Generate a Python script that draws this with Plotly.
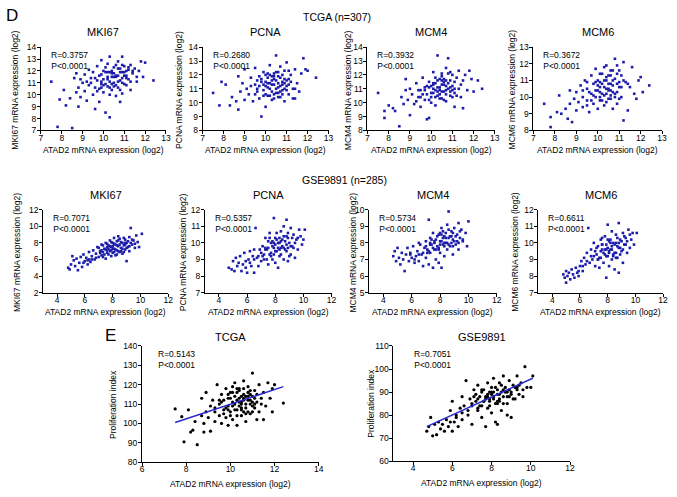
import plotly.graph_objects as go

# ---- D / TCGA (n=307) ----
tcga_mki67_x = [7.5,7.8,7.9,8.1,8.2,8.4,8.5,8.6,8.7,8.7,8.8,8.8,8.9,8.9,9.0,9.1,9.1,9.2,9.3,9.3,9.4,9.5,9.5,9.6,9.6,9.7,9.7,9.8,9.8,9.9,9.9,10.0,10.0,10.1,10.1,10.2,10.2,10.3,10.3,10.3,10.4,10.4,10.5,10.5,10.6,10.6,10.7,10.7,10.8,10.8,10.9,10.9,11.0,11.0,11.1,11.1,11.2,11.3,11.3,11.4,11.5,11.6,11.7,11.8,11.9,12.0,12.4,10.6,10.2,10.9,10.4,9.9,10.8,
                9.6,9.8,10.0,10.1,10.2,10.3,10.4,10.5,10.6,10.7,10.8,10.9,11.0,11.1,11.2,9.7,9.9,10.1,10.3,10.5,10.7,10.9,11.1,11.3,10.0,10.2,10.4,10.6,10.8,11.0,9.4,9.2,11.4,11.6,10.5,10.7,10.3,9.9,10.9,11.2]
tcga_mki67_y = [11.1,7.3,9.6,10.4,9.1,9.7,7.2,11.4,10.2,11.8,9.0,10.6,11.3,9.8,11.0,10.3,11.7,9.5,10.8,12.1,11.4,10.0,11.9,8.8,10.6,11.2,12.4,9.4,11.6,10.9,12.9,11.3,10.2,8.5,11.9,10.7,12.6,8.1,11.1,13.2,10.4,11.8,12.3,11.0,9.9,11.5,12.8,10.6,11.9,11.2,13.2,10.1,12.4,11.6,10.8,12.0,11.3,12.5,10.4,11.8,12.2,11.1,12.0,12.8,11.5,12.7,11.2,11.6,11.5,11.9,12.0,11.1,9.4,
                11.4,10.5,12.0,10.9,11.3,10.6,11.5,11.8,10.8,11.6,12.2,11.0,11.9,11.4,12.1,10.3,11.7,12.3,11.9,10.7,11.1,12.5,11.6,11.1,10.8,11.9,10.9,12.5,10.4,10.9,11.0,11.1,12.0,11.5,11.5,12.2,10.0,10.6,11.4,12.3]

tcga_pcna_x = [7.5,7.8,7.9,8.1,8.3,8.4,8.6,8.7,8.7,8.8,8.9,9.0,9.0,9.1,9.2,9.3,9.4,9.5,9.5,9.6,9.7,9.7,9.8,9.8,9.9,9.9,10.0,10.0,10.1,10.1,10.2,10.2,10.3,10.3,10.4,10.4,10.5,10.5,10.6,10.6,10.7,10.7,10.8,10.8,10.9,10.9,11.0,11.0,11.1,11.1,11.2,11.3,11.3,11.4,11.5,11.6,11.7,11.8,11.9,12.0,12.4,10.4,10.6,10.2,10.8,9.6,10.0,11.4,
               9.6,9.8,10.0,10.1,10.2,10.3,10.4,10.5,10.6,10.7,10.8,10.9,11.0,11.1,9.7,9.9,10.1,10.3,10.5,10.7,10.9,11.1,10.0,10.2,10.4,10.6,10.8,11.0,9.5,9.3,11.2,11.4,10.5,10.3,10.7,10.1,9.9,10.9,10.6,10.4]
tcga_pcna_y = [10.7,9.8,11.5,11.3,9.8,10.4,10.1,9.5,11.9,10.8,11.4,10.2,12.4,11.0,10.6,11.8,10.1,11.3,12.5,10.8,11.9,10.3,9.0,11.5,10.9,12.2,11.2,9.7,11.8,10.5,12.7,11.0,11.6,10.2,12.1,11.3,10.7,13.4,11.9,11.1,12.6,10.4,11.5,10.9,12.3,10.1,11.2,12.9,11.7,10.6,12.0,11.0,10.3,12.4,11.4,10.8,12.1,13.2,12.4,12.3,11.8,11.7,12.2,11.4,11.3,11.6,10.6,10.3,
               11.0,11.7,11.5,11.1,12.0,10.8,10.6,11.6,10.7,11.2,12.0,11.4,10.9,11.3,11.2,10.5,11.4,11.9,12.2,11.8,11.0,12.3,12.0,10.5,11.9,11.4,10.6,11.6,10.6,11.2,11.5,11.0,11.0,11.3,10.8,12.1,11.3,11.7,10.4,10.3]

tcga_mcm4_x = [7.5,7.8,7.8,8.0,8.2,8.3,8.5,8.6,8.7,8.8,8.8,8.9,9.0,9.0,9.1,9.2,9.3,9.4,9.5,9.5,9.6,9.7,9.7,9.8,9.8,9.9,9.9,10.0,10.0,10.1,10.1,10.2,10.2,10.3,10.3,10.4,10.4,10.5,10.5,10.6,10.6,10.7,10.7,10.8,10.8,10.9,10.9,11.0,11.0,11.1,11.1,11.2,11.3,11.3,11.4,11.5,11.6,11.7,11.8,11.9,12.0,12.2,12.4,10.5,10.2,10.7,9.4,11.5,
               9.6,9.8,10.0,10.1,10.2,10.3,10.4,10.5,10.6,10.7,10.8,10.9,11.0,11.1,9.7,9.9,10.1,10.3,10.5,10.7,10.9,11.1,10.0,10.2,10.4,10.6,10.8,11.0,9.5,9.3,11.2,11.4,10.5,10.3,10.7,10.1,9.9,10.9,10.6,10.4]
tcga_mcm4_y = [10.7,9.4,8.9,9.8,9.6,9.4,8.3,10.4,9.9,10.9,11.7,10.2,9.1,11.0,10.6,9.9,11.4,10.4,10.9,9.7,11.8,10.2,11.1,8.8,10.6,11.5,8.9,10.0,11.2,12.2,10.7,9.8,11.4,13.4,10.5,11.7,10.9,12.1,10.3,11.3,10.8,12.5,10.1,13.2,11.0,11.6,10.5,12.0,11.2,10.7,9.7,11.8,12.3,11.0,10.4,11.6,12.0,10.9,12.3,11.7,10.8,11.6,11.0,11.3,10.4,11.6,10.9,9.6,
               10.6,11.2,10.7,11.3,10.9,11.1,10.3,10.8,11.7,10.6,11.4,11.1,10.4,11.5,10.9,10.2,11.0,11.6,11.9,11.2,10.8,11.0,10.4,11.8,11.1,10.2,12.1,10.9,10.4,10.1,10.5,11.3,11.6,10.8,10.9,11.4,11.1,12.2,11.5,10.6]

tcga_mcm6_x = [7.5,7.8,7.8,8.1,8.2,8.3,8.5,8.6,8.7,8.7,8.8,8.9,9.0,9.0,9.1,9.2,9.3,9.3,9.4,9.5,9.5,9.6,9.7,9.7,9.8,9.8,9.9,9.9,10.0,10.0,10.1,10.1,10.2,10.2,10.3,10.3,10.4,10.4,10.5,10.5,10.6,10.6,10.7,10.7,10.8,10.8,10.9,10.9,11.0,11.0,11.1,11.2,11.2,11.3,11.4,11.5,11.6,11.7,11.8,11.9,12.0,12.1,12.4,10.4,10.1,10.6,9.5,
               9.6,9.8,10.0,10.1,10.2,10.3,10.4,10.5,10.6,10.7,10.8,10.9,11.0,11.1,9.7,9.9,10.1,10.3,10.5,10.7,10.9,11.1,10.0,10.2,10.4,10.6,10.8,11.0,9.5,9.3,11.2,11.4,10.5,10.3,10.7,10.1,9.9,10.9,10.6,10.4]
tcga_mcm6_y = [9.6,8.2,8.8,9.1,10.1,9.0,9.3,8.7,9.6,10.4,8.5,9.9,10.3,9.2,9.7,10.7,9.4,10.0,11.0,9.8,10.5,9.1,10.2,11.3,9.6,10.8,10.0,11.7,10.4,9.3,10.9,9.8,11.4,10.2,9.5,11.0,10.5,11.9,9.9,10.8,11.3,10.1,9.3,10.7,12.3,11.1,10.3,9.6,11.6,10.6,10.0,8.6,12.1,10.9,9.2,10.6,11.8,10.2,9.9,11.0,11.2,10.3,10.7,10.2,10.6,10.4,10.9,
               10.3,10.1,11.0,10.3,9.8,10.6,11.2,10.4,10.8,11.6,10.0,11.4,9.9,11.3,9.8,10.9,11.4,10.1,11.3,10.3,10.8,10.6,10.7,10.8,9.7,11.6,10.2,10.9,9.5,10.4,11.0,10.8,10.5,11.8,11.0,10.0,10.4,11.9,9.9,11.0]

# ---- D / GSE9891 (n=285) ----
gse_core_x = [7.0,7.2,7.3,7.5,7.6,7.8,7.9,8.0,8.1,8.2,8.3,8.4,8.5,8.6,8.7,8.8,8.9,9.0,9.1,9.3,7.1,7.4,7.7,8.0,8.3,8.6,8.9,9.2,6.8,6.5,6.2,5.9,8.1,7.9,8.4,7.6,8.8,9.4,9.6,7.3]

gse_mki67_x = [4.8,4.9,5.0,5.1,5.2,5.3,5.4,5.5,5.6,5.7,5.8,5.9,6.0,6.1,6.2,6.3,6.4,6.5,6.6,6.7,6.8,6.9,7.0,7.1,7.2,7.2,7.3,7.4,7.5,7.5,7.6,7.7,7.7,7.8,7.8,7.9,7.9,8.0,8.0,8.1,8.1,8.2,8.2,8.3,8.3,8.4,8.5,8.5,8.6,8.7,8.7,8.8,8.9,8.9,9.0,9.0,9.1,9.2,9.2,9.3,9.4,9.5,9.6,9.7,9.8,10.1,9.9,7.6,8.4,6.3] + gse_core_x
gse_mki67_y = [5.0,4.8,5.4,6.4,5.9,5.2,6.1,4.7,5.6,6.3,5.1,6.6,5.8,6.2,5.4,6.9,5.7,6.4,7.1,6.0,6.7,7.5,6.3,7.0,6.5,7.8,6.9,7.3,6.1,8.0,7.1,6.6,7.7,8.3,7.0,6.4,7.5,8.0,6.8,7.3,8.6,7.8,6.5,7.1,8.2,7.6,6.9,8.5,7.4,8.0,6.7,7.7,8.4,7.2,5.8,8.0,7.5,8.7,7.0,9.8,7.8,8.3,7.4,8.9,8.1,9.1,7.5,7.9,8.8,6.0,
               7.4,7.1,7.7,7.2,6.8,7.6,8.1,7.3,6.9,7.2,7.7,8.3,7.8,8.1,7.3,6.9,7.8,7.4,8.2,8.0,6.8,6.6,7.3,7.6,6.6,7.0,8.0,7.6,6.2,6.0,5.9,5.6,7.9,7.1,7.0,7.5,8.6,8.4,7.9,6.3]

gse_pcna_x = [4.7,4.9,5.0,5.1,5.2,5.3,5.4,5.5,5.6,5.7,5.8,5.9,6.0,6.1,6.2,6.3,6.4,6.5,6.6,6.7,6.8,6.9,7.0,7.1,7.2,7.3,7.4,7.5,7.5,7.6,7.7,7.8,7.8,7.9,7.9,8.0,8.0,8.1,8.2,8.2,8.3,8.4,8.4,8.5,8.6,8.6,8.7,8.8,8.8,8.9,9.0,9.1,9.1,9.2,9.3,9.4,9.5,9.6,9.7,9.8,9.9,10.1,10.0,7.7,8.3,8.9,6.5] + gse_core_x
gse_pcna_y = [8.5,8.4,8.9,8.3,9.1,8.6,8.8,9.2,8.3,8.7,9.4,8.9,8.2,9.0,9.5,8.6,9.2,8.2,10.9,9.1,8.6,9.6,8.9,9.8,9.3,10.3,9.0,9.7,8.7,10.6,9.4,10.1,9.0,9.7,11.5,10.3,8.8,9.5,10.0,8.5,9.2,10.7,9.7,10.2,9.0,11.0,9.6,11.4,10.4,8.9,10.0,9.3,10.9,9.8,10.5,9.1,10.2,9.6,10.8,10.4,9.9,10.8,10.2,10.0,10.0,9.7,9.6,
              9.4,9.0,9.6,10.1,9.3,9.8,10.0,9.5,10.2,9.7,10.3,9.3,9.8,10.4,10.1,9.5,10.3,9.2,9.8,9.7,9.2,9.6,9.2,9.9,9.6,9.7,10.6,10.3,9.2,9.0,8.8,8.5,10.6,9.3,10.1,10.3,9.9,10.0,10.3,9.7]

gse_mcm4_x = [4.7,4.8,4.9,5.0,5.1,5.2,5.3,5.4,5.5,5.6,5.7,5.8,5.9,6.0,6.1,6.2,6.3,6.4,6.5,6.6,6.7,6.8,6.9,7.0,7.0,7.1,7.2,7.3,7.3,7.4,7.5,7.5,7.6,7.7,7.7,7.8,7.9,7.9,8.0,8.0,8.1,8.1,8.2,8.3,8.3,8.4,8.5,8.5,8.6,8.6,8.7,8.8,8.9,8.9,9.0,9.1,9.2,9.3,9.3,9.4,9.5,9.6,9.8,9.9,10.0,7.2,8.2,6.5] + gse_core_x
gse_mcm4_y = [7.2,7.5,6.9,7.7,7.1,6.7,7.4,7.0,6.3,7.3,7.7,6.9,7.4,7.1,7.8,6.8,7.2,7.5,6.9,7.9,7.3,6.6,7.7,8.1,7.1,7.6,6.7,8.3,7.4,7.9,6.5,8.6,7.6,8.2,7.0,7.8,8.5,6.8,8.1,7.4,8.9,6.5,7.9,8.4,7.2,8.0,9.1,7.6,9.9,8.3,7.8,8.7,7.3,8.2,8.9,7.9,8.5,7.6,9.2,8.3,8.8,8.1,8.6,7.8,9.3,9.4,8.7,8.0,
              7.8,7.5,8.0,7.7,8.1,8.4,7.6,7.9,8.1,8.3,7.8,8.6,8.0,7.9,8.4,8.0,8.6,8.1,8.4,8.0,7.4,8.2,7.6,8.6,8.0,8.8,7.8,8.1,7.4,7.3,7.0,7.3,8.5,7.7,8.3,8.0,8.4,8.7,8.2,7.9]

gse_mcm6_x = [4.8,4.9,5.0,5.0,5.1,5.2,5.3,5.4,5.5,5.6,5.7,5.8,5.9,6.0,6.1,6.2,6.3,6.4,6.5,6.6,6.7,6.8,6.9,7.0,7.1,7.2,7.3,7.4,7.5,7.5,7.6,7.7,7.8,7.8,7.9,7.9,8.0,8.0,8.1,8.1,8.2,8.3,8.3,8.4,8.5,8.5,8.6,8.7,8.7,8.8,8.8,8.9,9.0,9.1,9.1,9.2,9.3,9.4,9.5,9.6,9.7,9.8,9.9,10.1,8.2,7.6,8.6] + gse_core_x
gse_mcm6_y = [8.1,7.9,7.6,8.3,8.0,8.2,7.8,8.4,8.1,7.9,8.5,8.2,8.0,8.6,8.9,8.3,9.1,8.7,9.4,10.9,8.8,9.6,9.0,10.0,8.6,9.3,9.8,8.5,10.2,9.1,9.6,8.8,10.4,9.3,7.9,9.9,11.1,9.2,10.1,8.6,9.6,10.7,9.0,10.0,9.4,8.4,10.5,9.1,9.8,11.2,8.2,10.2,9.5,10.6,8.8,9.9,10.3,9.4,10.8,9.7,10.2,10.6,9.9,10.6,10.2,9.9,9.4,
              9.2,9.7,9.0,9.5,9.9,9.6,9.2,9.7,9.4,10.0,9.6,9.3,9.9,10.0,10.3,9.7,9.3,10.1,9.6,9.9,9.5,9.1,9.4,10.2,9.8,9.1,9.7,10.4,9.2,8.9,8.6,8.3,9.5,9.6,9.2,10.3,10.0,10.1,10.5,9.0]

# ---- E / proliferation index ----
e_tcga_x = [7.5,7.8,7.9,8.1,8.2,8.3,8.4,8.5,8.7,8.7,8.8,8.8,8.9,8.9,9.0,9.1,9.1,9.2,9.3,9.3,9.4,9.5,9.5,9.6,9.6,9.7,9.7,9.8,9.8,9.9,9.9,10.0,10.0,10.1,10.1,10.2,10.2,10.3,10.3,10.4,10.4,10.5,10.5,10.6,10.6,10.7,10.7,10.8,10.8,10.9,10.9,11.0,11.0,11.1,11.1,11.2,11.2,11.3,11.3,11.4,11.5,11.5,11.6,11.7,11.8,11.9,11.9,12.0,12.4,10.5,10.8,10.3,11.0,9.9,10.6,
            9.6,9.8,10.0,10.1,10.2,10.3,10.4,10.5,10.6,10.7,10.8,10.9,11.0,11.1,9.7,9.9,10.1,10.3,10.5,10.7,10.9,11.1,10.0,10.2,10.4,10.6,10.8,11.0,9.5,9.3,11.2,11.4,10.5,10.3,10.7,10.1,9.9,10.9,10.6,10.4]
e_tcga_y = [107.5,103.5,90.5,107,95.5,96.5,101,89,104,113,95.5,100,106,116,103,109,96,112,101,106,120,104,110,115,100,107,112,103,118,109,99,113,106,116,102,110,121,99,107,113,118,104,110,122,115,101,108,112,119,105,110,126,114,108,117,102,111,120,106,113,116,102,109,121,113,118,106,120,110.5,111,114,112,111,113,106,
            111,108,116,109,114,104,117,108,112,110,106,115,109,113,105,115,111,118,107,114,117,110,104,107,109,113,116,106,112,108,115,110,114,116,105,119,107,112,118,111]
e_tcga_fit_x = [7.5, 12.4]
e_tcga_fit_y = [100.5, 119.0]

e_gse_x = [4.7,4.8,4.9,5.0,5.1,5.2,5.3,5.4,5.5,5.6,5.7,5.8,5.9,6.0,6.0,6.1,6.2,6.3,6.4,6.5,6.5,6.6,6.7,6.8,6.9,7.0,7.0,7.1,7.2,7.3,7.3,7.4,7.5,7.5,7.6,7.7,7.7,7.8,7.8,7.9,7.9,8.0,8.0,8.1,8.1,8.2,8.2,8.3,8.3,8.4,8.4,8.5,8.5,8.6,8.6,8.7,8.8,8.8,8.9,9.0,9.0,9.1,9.2,9.3,9.3,9.4,9.5,9.6,9.7,9.8,10.0,10.1,7.8,8.3,7.5] + gse_core_x
e_gse_y = [73,75,79,71,76,71.5,77,74,76,73,78,75,82,73,86,77,80,75,83,88,78,84,95,80,87,84,76,91,86,82,93,88,84,79,91,75,87,94,83,90,86,92,81,88,96,85,77,91,76,94,87,90,82,97,85,92,88,80,95,90,79,93,87,97,91,89,94,88,101,92,92,97,89,89,90,
           85,89,87,91,86,88,84,90,87,92,86,89,93,88,90,85,91,89,87,92,88,84,88,89,85,91,88,92,82,81,79,77,90,87,86,86,90,93,91,83]
e_gse_fit_x = [4.7, 10.1]
e_gse_fit_y = [75.0, 96.0]

W, H = 677, 497
BLUE = '#1c1caa'
FONT = 'Liberation Sans, Arial, sans-serif'


def px(x):
    return x / W


def py(y):
    return 1 - y / H


fig = go.Figure()
annotations = []


def add_text(text, x, y, size, angle=0, xanchor='center', yanchor='middle'):
    annotations.append(dict(text=text, x=px(x), y=py(y), xref='paper', yref='paper',
                            showarrow=False, textangle=angle, xanchor=xanchor, yanchor=yanchor,
                            font=dict(size=size, color='black', family=FONT)))


# x data, y data, xrange, yrange, xticks, yticks, left, right, top, bottom, R, gene, ytitle x
panels = [
    (tcga_mki67_x, tcga_mki67_y, [7, 13], [7, 14], list(range(7, 14)), list(range(7, 15)), 39.3, 165.7, 43, 128, '0.3757', 'MKI67', 13),
    (tcga_pcna_x, tcga_pcna_y, [7, 13], [8, 14], list(range(7, 14)), list(range(8, 15)), 202.7, 330, 43, 128, '0.2680', 'PCNA', 179),
    (tcga_mcm4_x, tcga_mcm4_y, [7, 13], [8, 14], list(range(7, 14)), list(range(8, 15)), 369.3, 498, 43, 128, '0.3932', 'MCM4', 349),
    (tcga_mcm6_x, tcga_mcm6_y, [7, 13], [8, 13], list(range(7, 14)), list(range(8, 14)), 537, 667, 43, 128, '0.3672', 'MCM6', 515),
    (gse_mki67_x, gse_mki67_y, [3, 12], [2, 12], [4, 6, 8, 10, 12], [2, 4, 6, 8, 10, 12], 41.6, 168, 209, 293.5, '0.7071', 'MKI67', 15),
    (gse_pcna_x, gse_pcna_y, [3, 12], [7, 12], [4, 6, 8, 10, 12], list(range(7, 13)), 205, 333, 209, 293.5, '0.5357', 'PCNA', 183),
    (gse_mcm4_x, gse_mcm4_y, [3, 12], [5, 10], [4, 6, 8, 10, 12], list(range(5, 11)), 371, 500, 209, 293.5, '0.5734', 'MCM4', 355),
    (gse_mcm6_x, gse_mcm6_y, [3, 12], [7, 12], [4, 6, 8, 10, 12], list(range(7, 13)), 542, 668, 209, 293.5, '0.6611', 'MCM6', 519),
]

for i, p in enumerate(panels, start=1):
    xs, ys, xr, yr, xt, yt, l, r, t, b, R, gene, ytx = p
    fig.add_trace(go.Scatter(x=xs, y=ys, mode='markers', xaxis='x%d' % i, yaxis='y%d' % i,
                             marker=dict(color=BLUE, size=2.6, symbol='square'), cliponaxis=False))
    fig.layout['xaxis%d' % i] = dict(domain=[px(l), px(r)], range=xr, tickvals=xt, anchor='y%d' % i)
    fig.layout['yaxis%d' % i] = dict(domain=[py(b), py(t)], range=yr, tickvals=yt, anchor='x%d' % i)
    cx = (l + r) / 2
    add_text(gene, cx, t - 15, 11)
    add_text('ATAD2 mRNA expression (log2)', cx, b + 20, 8.5)
    add_text(gene + ' mRNA expression (log2)', ytx, (t + b) / 2 + 1, 8.5, angle=-90)
    add_text('R=' + R + '<br>P<0.0001', l + 8, t + 1, 8.5, xanchor='left', yanchor='top')

# E panels
e_panels = [
    (e_tcga_x, e_tcga_y, e_tcga_fit_x, e_tcga_fit_y, [6, 14], [80, 140], [6, 8, 10, 12, 14], list(range(80, 141, 10)), 141.5, 320, 348, 466.5, '0.5143', 'TCGA', 112, 14),
    (e_gse_x, e_gse_y, e_gse_fit_x, e_gse_fit_y, [3, 12], [60, 110], [4, 6, 8, 10, 12], list(range(60, 111, 10)), 395.5, 574, 348, 465.5, '0.7051', 'GSE9891', 372, 19),
]
for j, p in enumerate(e_panels, start=len(panels) + 1):
    xs, ys, fx, fy, xr, yr, xt, yt, l, r, t, b, R, name, ytx, rdx = p
    fig.add_trace(go.Scatter(x=xs, y=ys, mode='markers', xaxis='x%d' % j, yaxis='y%d' % j,
                             marker=dict(color='black', size=3.2), cliponaxis=False))
    fig.add_trace(go.Scatter(x=fx, y=fy, mode='lines', xaxis='x%d' % j, yaxis='y%d' % j,
                             line=dict(color='#2a2ad0', width=1.5)))
    fig.layout['xaxis%d' % j] = dict(domain=[px(l), px(r)], range=xr, tickvals=xt, anchor='y%d' % j)
    fig.layout['yaxis%d' % j] = dict(domain=[py(b), py(t)], range=yr, tickvals=yt, anchor='x%d' % j)
    cx = (l + r) / 2
    add_text(name, cx, t - 9, 11)
    add_text('ATAD2 mRNA expression (log2)', cx, b + 22, 8.5)
    add_text('Proliferation index', ytx, (t + b) / 2, 8.5, angle=-90)
    add_text('R=' + R + '<br>P<0.0001', l + rdx, t + 1, 8.5, xanchor='left', yanchor='top')

# section headings
add_text('D', 2, 11, 17, xanchor='left')
add_text('E', 110, 337, 17)
add_text('TCGA (n=307)', 338, 12, 10.5)
add_text('GSE9891 (n=285)', 346, 179, 10.5)

axis_style = dict(showline=True, linecolor='black', linewidth=1, ticks='outside', ticklen=3,
                  tickwidth=1, tickcolor='black', showgrid=False, zeroline=False,
                  tickfont=dict(size=8.5, color='black', family=FONT))
fig.update_xaxes(ticklabelstandoff=-4, **axis_style)
fig.update_yaxes(ticklabelstandoff=-1, **axis_style)

fig.update_layout(width=W, height=H, margin=dict(l=0, r=0, t=0, b=0),
                  paper_bgcolor='white', plot_bgcolor='white', showlegend=False,
                  annotations=annotations, font=dict(family=FONT))

fig.write_html("out.html", config={'displayModeBar': False},
               post_script="document.body.style.margin='0px';")
